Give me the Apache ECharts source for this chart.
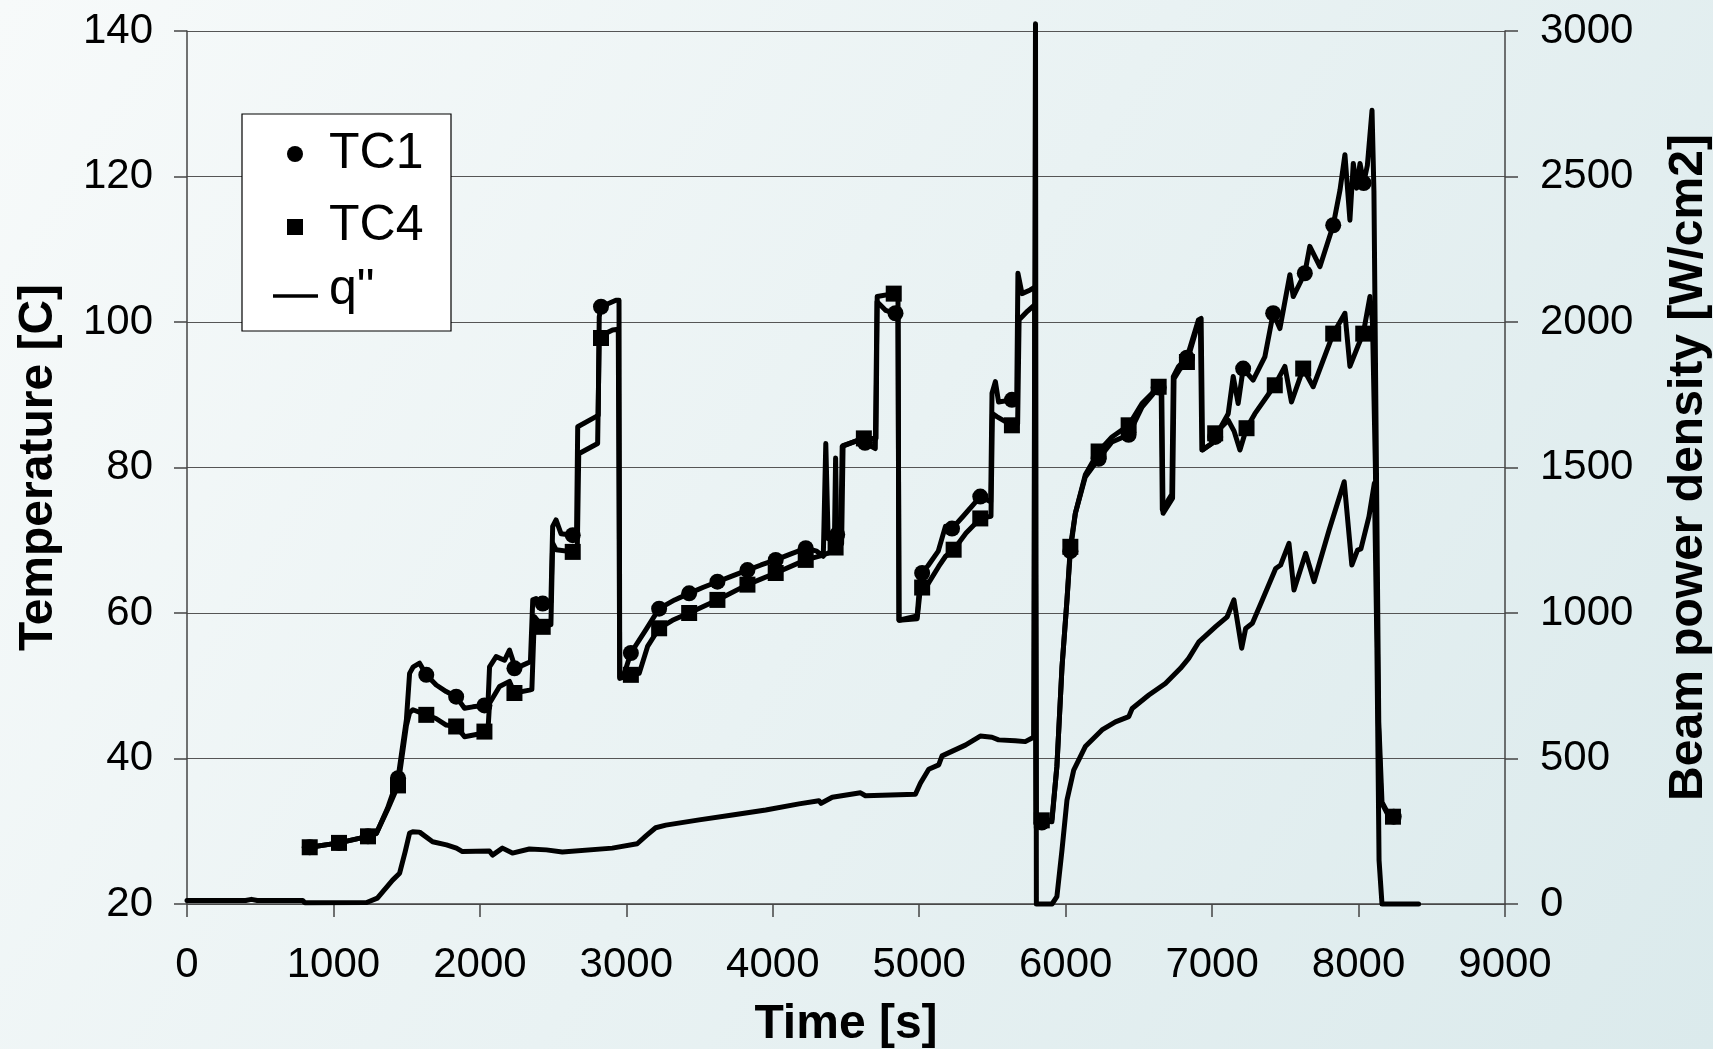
<!DOCTYPE html>
<html>
<head>
<meta charset="utf-8">
<script src="https://cdn.jsdelivr.net/npm/echarts@6/dist/echarts.min.js"></script>
<style>
  html, body { margin: 0; padding: 0; }
  #chart { width: 1713px; height: 1049px; }
</style>
</head>
<body>
<div id="chart"></div>
<script>
// time [s], temperature [C]
const tc1Trace = [
  [838, 27.8], [1038, 28.4], [1236, 29.3], [1293, 29.7], [1370, 33.2], [1441, 37.3], [1498, 45.3], [1520, 51.7],
  [1545, 52.6], [1588, 53.1], [1634, 51.5], [1702, 50.1], [1770, 49.2], [1838, 48.5], [1895, 46.9], [1952, 47.1],
  [2031, 47.3], [2055, 47.4], [2066, 52.6], [2111, 54.0], [2168, 53.5], [2202, 54.9], [2225, 53.5], [2236, 52.4],
  [2290, 52.8], [2345, 53.3], [2361, 61.8], [2384, 62.0], [2429, 61.3], [2485, 61.5], [2497, 71.9], [2520, 72.8],
  [2554, 70.9], [2634, 70.7], [2660, 70.9], [2668, 85.6], [2793, 87.0], [2808, 87.2], [2815, 100.7], [2827, 102.1],
  [2929, 103.0], [2950, 103.0], [2955, 51.2], [2985, 51.6], [3031, 54.5], [3134, 57.7], [3224, 60.6], [3330, 61.8],
  [3429, 62.7], [3522, 63.5], [3622, 64.3], [3725, 65.1], [3827, 65.9], [3920, 66.6], [4020, 67.3], [4120, 68.1],
  [4225, 68.9], [4300, 68.5], [4345, 67.8], [4362, 83.3], [4378, 70.2], [4440, 70.8], [4465, 71.0], [4474, 82.9],
  [4588, 83.8], [4630, 83.4], [4700, 82.6], [4712, 102.8], [4770, 101.6], [4838, 101.2], [4855, 101.0], [4862, 59.0],
  [4986, 59.6], [5008, 65.2], [5060, 66.5], [5130, 68.5], [5179, 71.9], [5224, 71.6], [5300, 73.3], [5417, 76.0],
  [5488, 75.3], [5497, 90.2], [5520, 91.8], [5542, 89.0], [5633, 89.3], [5666, 89.8], [5674, 106.7], [5702, 103.9],
  [5758, 104.4], [5790, 104.8], [5798, 31.0], [5837, 31.2], [5906, 31.6], [5940, 38.9], [5975, 52.6], [6009, 61.8],
  [6032, 68.5], [6066, 73.7], [6134, 78.7], [6225, 81.2], [6316, 83.5], [6430, 84.5], [6521, 88.3], [6635, 91.0],
  [6652, 91.4], [6660, 74.2], [6725, 76.3], [6735, 92.5], [6771, 93.9], [6828, 95.1], [6907, 100.3], [6925, 100.5],
  [6935, 82.4], [6998, 83.3], [7021, 84.2], [7110, 87.4], [7144, 92.5], [7178, 88.8], [7212, 93.6], [7280, 92.0],
  [7360, 95.2], [7417, 101.2], [7463, 99.1], [7531, 106.5], [7554, 103.5], [7633, 106.7], [7667, 110.4], [7736, 107.6],
  [7827, 113.3], [7873, 118.1], [7907, 123.0], [7941, 114.0], [7964, 121.8], [7987, 118.4], [8010, 121.8], [8035, 119.1],
  [8060, 121.5], [8092, 129.1], [8105, 118.0], [8122, 80.0], [8138, 45.0], [8160, 34.0], [8200, 32.5], [8240, 32.0]
]
const tc1Marks = [
  [838, 27.8], [1038, 28.4], [1236, 29.3], [1441, 37.3], [1634, 51.5], [1838, 48.5], [2031, 47.3], [2236, 52.4],
  [2429, 61.3], [2634, 70.7], [2827, 102.1], [3031, 54.5], [3224, 60.6], [3429, 62.7], [3622, 64.3], [3827, 65.9],
  [4020, 67.3], [4225, 68.9], [4440, 70.8], [4630, 83.4], [4838, 101.2], [5020, 65.5], [5224, 71.6], [5417, 76.0],
  [5633, 89.3], [5837, 31.2], [6032, 68.5], [6225, 81.2], [6430, 84.5], [6635, 91.0], [6828, 95.1], [7021, 84.2],
  [7212, 93.6], [7417, 101.2], [7633, 106.7], [7827, 113.3], [8035, 119.1], [8240, 32.0]
]
const tc4Trace = [
  [838, 27.8], [1038, 28.4], [1236, 29.3], [1293, 29.7], [1370, 33.0], [1441, 36.3], [1498, 44.5], [1520, 46.3],
  [1543, 46.7], [1634, 46.0], [1700, 45.5], [1770, 44.6], [1838, 44.4], [1895, 43.0], [1975, 43.3], [2031, 43.7],
  [2055, 43.8], [2066, 47.6], [2134, 49.9], [2202, 50.6], [2236, 49.0], [2338, 49.4], [2355, 49.5], [2372, 59.5],
  [2429, 58.1], [2485, 58.4], [2497, 69.6], [2520, 68.7], [2634, 68.4], [2665, 68.6], [2675, 81.9], [2804, 83.3],
  [2815, 98.0], [2827, 97.8], [2906, 98.9], [2945, 99.0], [2955, 51.0], [3031, 51.5], [3088, 51.7], [3145, 55.4],
  [3224, 57.9], [3315, 59.0], [3429, 60.0], [3622, 61.8], [3827, 63.9], [4020, 65.5], [4225, 67.3], [4350, 68.0],
  [4420, 68.6], [4429, 81.3], [4438, 69.2], [4470, 69.5], [4480, 83.0], [4622, 84.0], [4705, 84.0], [4713, 103.5],
  [4826, 103.9], [4855, 103.8], [4862, 59.0], [4986, 59.2], [5008, 63.4], [5060, 64.0], [5133, 66.4], [5180, 67.8],
  [5235, 68.7], [5320, 71.0], [5417, 73.0], [5490, 73.3], [5500, 87.4], [5530, 87.0], [5633, 85.8], [5672, 86.0],
  [5682, 100.3], [5740, 101.5], [5790, 102.4], [5798, 31.0], [5837, 31.5], [5906, 31.3], [5940, 38.9], [5975, 52.6],
  [6009, 61.8], [6032, 69.1], [6066, 73.7], [6134, 79.0], [6225, 82.2], [6316, 84.2], [6430, 85.8], [6521, 88.8],
  [6635, 91.1], [6656, 91.0], [6665, 73.7], [6730, 75.8], [6740, 92.2], [6780, 93.5], [6828, 94.5], [6900, 99.5],
  [6920, 99.8], [6930, 82.4], [6998, 83.3], [7021, 84.7], [7110, 86.5], [7150, 85.0], [7190, 82.4], [7235, 85.4],
  [7292, 87.4], [7428, 91.3], [7497, 93.9], [7542, 89.0], [7622, 93.6], [7690, 91.1], [7827, 98.4], [7907, 101.2],
  [7941, 93.9], [7998, 96.8], [8032, 98.4], [8078, 103.5], [8095, 100.0], [8115, 80.0], [8135, 45.0], [8155, 34.0],
  [8200, 32.3], [8240, 32.0]
]
const tc4Marks = [
  [838, 27.8], [1038, 28.4], [1236, 29.3], [1441, 36.3], [1634, 46.0], [1838, 44.4], [2031, 43.7], [2236, 49.0],
  [2429, 58.1], [2634, 68.4], [2827, 97.8], [3031, 51.5], [3224, 57.9], [3429, 60.0], [3622, 61.8], [3827, 63.9],
  [4020, 65.5], [4225, 67.3], [4429, 69.0], [4622, 84.0], [4826, 103.9], [5020, 63.5], [5235, 68.7], [5417, 73.0],
  [5633, 85.8], [5837, 31.5], [6032, 69.1], [6225, 82.2], [6430, 85.8], [6635, 91.1], [6828, 94.5], [7021, 84.7],
  [7235, 85.4], [7428, 91.3], [7622, 93.6], [7827, 98.4], [8032, 98.4], [8235, 32.0]
]
// time [s], beam power density [W/cm2]
const qTrace = [
  [0, 12], [400, 12], [440, 16], [480, 12], [790, 12], [805, 4], [1227, 5], [1300, 20], [1404, 82], [1452, 106],
  [1490, 180], [1520, 244], [1541, 248], [1588, 247], [1677, 214], [1772, 203], [1840, 192], [1881, 180], [2065, 182],
  [2086, 168], [2154, 192], [2222, 175], [2338, 189], [2454, 186], [2563, 179], [2904, 192], [3074, 207], [3136, 235],
  [3200, 262], [3270, 271], [3497, 289], [3724, 306], [3952, 323], [4179, 344], [4315, 355], [4330, 346], [4406, 367],
  [4599, 382], [4633, 372], [4974, 377], [5008, 415], [5065, 463], [5133, 478], [5156, 509], [5315, 546], [5417, 577],
  [5497, 573], [5542, 564], [5656, 561], [5724, 558], [5781, 573], [5794, 3025], [5800, 0], [5907, 0], [5940, 25],
  [5975, 186], [6009, 357], [6055, 460], [6134, 541], [6248, 598], [6340, 626], [6431, 644], [6454, 672], [6568, 718],
  [6681, 758], [6784, 810], [6840, 844], [6910, 901], [7024, 953], [7103, 987], [7149, 1045], [7202, 879], [7229, 947],
  [7275, 965], [7343, 1045], [7434, 1153], [7468, 1165], [7525, 1239], [7559, 1079], [7639, 1205], [7696, 1108],
  [7799, 1285], [7902, 1451], [7954, 1165], [7993, 1216], [8016, 1220], [8071, 1331], [8108, 1446], [8125, 900],
  [8140, 150], [8160, 0], [8410, 0]
]
const legendNames = ['TC1', 'TC4', 'q"']

const FONT = '"Liberation Sans", Arial, sans-serif'
const NARROW = '"Liberation Sans Narrow", "Arial Narrow", "Liberation Sans", Arial, sans-serif'

var chartDom = document.getElementById('chart')
var myChart = echarts.init(chartDom)
var lineStyle = { color: '#000', width: 5, join: 'round', cap: 'round' }
var option = {
  animation: false,
  backgroundColor: new echarts.graphic.LinearGradient(0, 0, 1, 1, [
    { offset: 0, color: '#f7fafa' },
    { offset: 1, color: '#dbeaec' }
  ]),
  textStyle: { fontFamily: FONT },
  grid: {
    left: 187,
    right: 208,
    top: 31,
    bottom: 145,
    containLabel: false,
    outerBoundsMode: 'none'
  },
  xAxis: {
    type: 'value',
    min: 0,
    max: 9000,
    interval: 1000,
    name: 'Time [s]',
    nameLocation: 'middle',
    nameGap: 97,
    nameTextStyle: { fontSize: 48, fontWeight: 'bold', color: '#000', fontFamily: FONT },
    axisLine: { show: true, onZero: false, lineStyle: { color: '#444', width: 1.5 } },
    axisTick: { show: true, inside: false, length: 13, lineStyle: { color: '#444', width: 1.5 } },
    axisLabel: { fontSize: 42, color: '#000', margin: 40, fontFamily: NARROW, formatter: (v) => String(v) },
    splitLine: { show: false }
  },
  yAxis: [
    {
      type: 'value',
      position: 'left',
      min: 20,
      max: 140,
      interval: 20,
      name: 'Temperature [C]',
      nameLocation: 'middle',
      nameGap: 124,
      nameRotate: 90,
      nameTextStyle: { fontSize: 48, fontWeight: 'bold', color: '#000' },
      axisLine: { show: true, lineStyle: { color: '#444', width: 1.5 } },
      axisTick: { show: true, inside: false, length: 13, lineStyle: { color: '#444', width: 1.5 } },
      axisLabel: { fontSize: 42, color: '#000', margin: 34, formatter: (v) => String(v) },
      splitLine: { show: true, lineStyle: { color: '#555', width: 1.2 } }
    },
    {
      type: 'value',
      position: 'right',
      min: 0,
      max: 3000,
      interval: 500,
      name: 'Beam power density [W/cm2]',
      nameLocation: 'middle',
      nameGap: 160,
      nameRotate: 90,
      nameTextStyle: { fontSize: 48, fontWeight: 'bold', color: '#000' },
      axisLine: { show: true, lineStyle: { color: '#444', width: 1.5 } },
      axisTick: { show: true, inside: false, length: 13, lineStyle: { color: '#444', width: 1.5 } },
      axisLabel: { fontSize: 42, color: '#000', margin: 35, formatter: (v) => String(v) },
      splitLine: { show: false }
    }
  ],
  series: [
    {
      name: legendNames[2],
      type: 'line',
      yAxisIndex: 1,
      data: qTrace,
      symbol: 'none',
      clip: false,
      lineStyle: lineStyle,
      z: 2
    },
    {
      name: legendNames[0],
      type: 'line',
      yAxisIndex: 0,
      data: tc1Trace,
      symbol: 'none',
      lineStyle: lineStyle,
      z: 3
    },
    {
      name: legendNames[1],
      type: 'line',
      yAxisIndex: 0,
      data: tc4Trace,
      symbol: 'none',
      lineStyle: lineStyle,
      z: 3
    },
    {
      name: legendNames[0],
      type: 'scatter',
      yAxisIndex: 0,
      data: tc1Marks,
      symbol: 'circle',
      symbolSize: 16,
      itemStyle: { color: '#000', opacity: 1 },
      z: 4
    },
    {
      name: legendNames[1],
      type: 'scatter',
      yAxisIndex: 0,
      data: tc4Marks,
      symbol: 'rect',
      symbolSize: 16,
      itemStyle: { color: '#000', opacity: 1 },
      z: 5
    }
  ],
  graphic: [
    { type: 'rect', z: 10, shape: { x: 242, y: 114, width: 209, height: 217 }, style: { fill: '#fff', stroke: '#000', lineWidth: 1.2 } },
    { type: 'circle', z: 11, shape: { cx: 295, cy: 154, r: 8 }, style: { fill: '#000' } },
    { type: 'rect', z: 11, shape: { x: 287, y: 219, width: 16, height: 16 }, style: { fill: '#000' } },
    { type: 'line', z: 11, shape: { x1: 273, y1: 296, x2: 318, y2: 296 }, style: { stroke: '#000', lineWidth: 3.5 } },
    { type: 'text', z: 11, x: 329, y: 154, style: { text: legendNames[0], fontSize: 50, fontFamily: FONT, fill: '#000', verticalAlign: 'middle', textVerticalAlign: 'middle' } },
    { type: 'text', z: 11, x: 329, y: 226, style: { text: legendNames[1], fontSize: 50, fontFamily: FONT, fill: '#000', verticalAlign: 'middle', textVerticalAlign: 'middle' } },
    { type: 'text', z: 11, x: 329, y: 290, style: { text: legendNames[2], fontSize: 50, fontFamily: FONT, fill: '#000', verticalAlign: 'middle', textVerticalAlign: 'middle' } }
  ]
}
option && myChart.setOption(option)
</script>
</body>
</html>
